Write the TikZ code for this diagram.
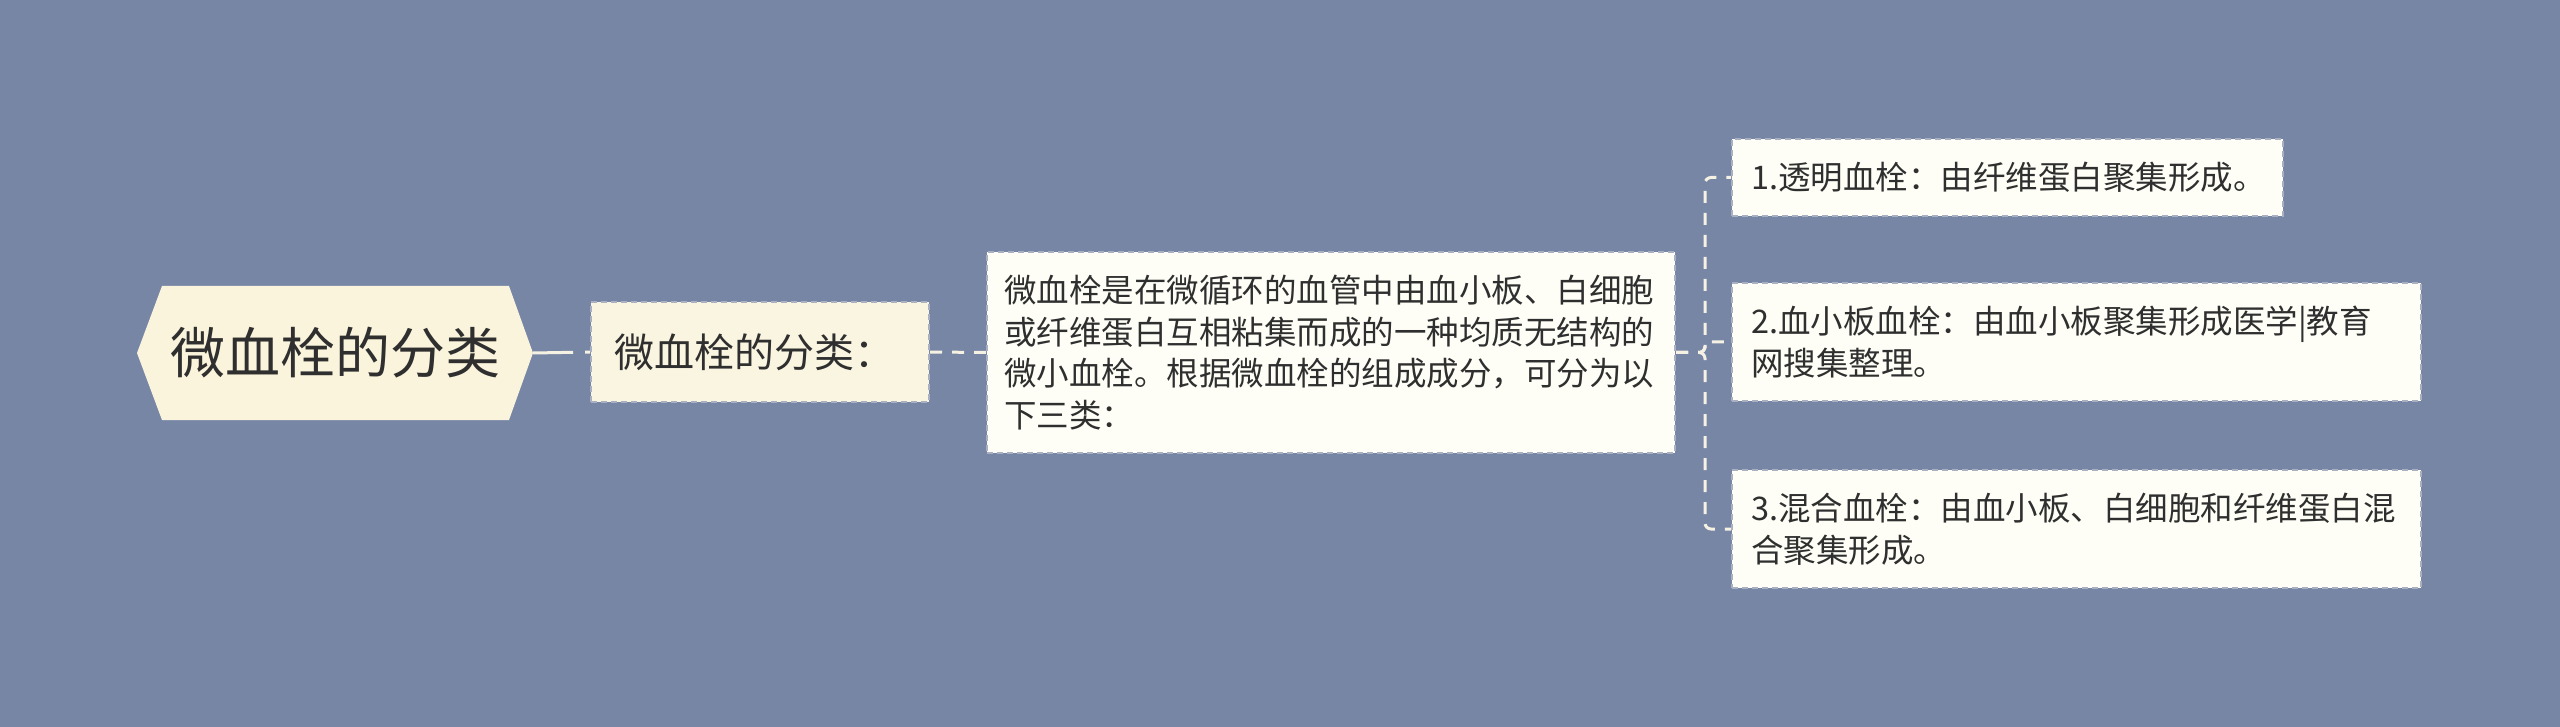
\documentclass[tikz,border=0pt]{standalone}
\usepackage{fontspec}
\newfontfamily\cjk{Noto Sans CJK SC}
\definecolor{bgcol}{HTML}{7886A6}
\definecolor{rootfill}{HTML}{FAF4DC}
\definecolor{midfill}{HTML}{FAF5E1}
\definecolor{leaffill}{HTML}{FEFEF7}
\definecolor{linecol}{HTML}{F5F1E3}
\definecolor{edgecol}{HTML}{A9B0C2}
\definecolor{txt}{HTML}{2F2F2F}
\begin{document}
\begin{tikzpicture}[x=1pt,y=-1pt,
  conn/.style={draw=linecol, line width=3pt, dash pattern=on 12pt off 10pt},
  box/.style={rectangle, draw=edgecol, line width=2pt, dash pattern=on 6pt off 4pt,
    text=txt, inner ysep=0pt, align=left},
  leaf/.style={box, fill=leaffill, inner xsep=19pt,
    font=\cjk\fontsize{32.5pt}{42pt}\selectfont}]
\fill[bgcol] (0,0) rectangle (2560,727);
\useasboundingbox (0,0) rectangle (2560,727);
% root hexagon
\fill[rootfill] (137,353) -- (162,286) -- (509,286) -- (533,353) -- (509,420) -- (162,420) -- cycle;
\node[text=txt, font=\cjk\fontsize{55pt}{60pt}\selectfont, minimum width=396pt,
  minimum height=134pt, inner sep=0pt] (root) at (335,353) {微血栓的分类};
% level 2
\node[box, fill=midfill, inner xsep=23pt, text width=292pt, minimum height=100pt,
  font=\cjk\fontsize{40pt}{46pt}\selectfont] (n2) at (760,352) {微血栓的分类：};
% level 3
\node[box, fill=leaffill, inner xsep=17pt, text width=654pt, minimum height=201pt,
  font=\cjk\fontsize{32.5pt}{41.5pt}\selectfont] (n3) at (1331,352.5)
  {微血栓是在微循环的血管中由血小板、白细胞\\或纤维蛋白互相粘集而成的一种均质无结构的\\微小血栓。根据微血栓的组成成分，可分为以\\下三类：};
% leaves
\node[leaf, text width=513pt, minimum height=77pt] (c1) at (2007.5,177.5)
  {1.透明血栓：由纤维蛋白聚集形成。};
\node[leaf, text width=651pt, minimum height=118pt] (c2) at (2076.5,342)
  {2.血小板血栓：由血小板聚集形成医学|教育\\网搜集整理。};
\node[leaf, text width=651pt, minimum height=118pt] (c3) at (2076.5,529)
  {3.混合血栓：由血小板、白细胞和纤维蛋白混\\合聚集形成。};
% connectors
\draw[conn, dash pattern=on 40pt off 12pt] (root.east) -- (n2.west);
\draw[conn] (n2.east) -- (n3.west);
\coordinate (j) at ([xshift=29pt]n3.east);
\draw[conn, rounded corners=6pt] (n3.east) -- (j) |- (c1.west);
\draw[conn, rounded corners=6pt] (n3.east) -- (j) |- (c2.west);
\draw[conn, rounded corners=6pt] (n3.east) -- (j) |- (c3.west);
\end{tikzpicture}
\end{document}
